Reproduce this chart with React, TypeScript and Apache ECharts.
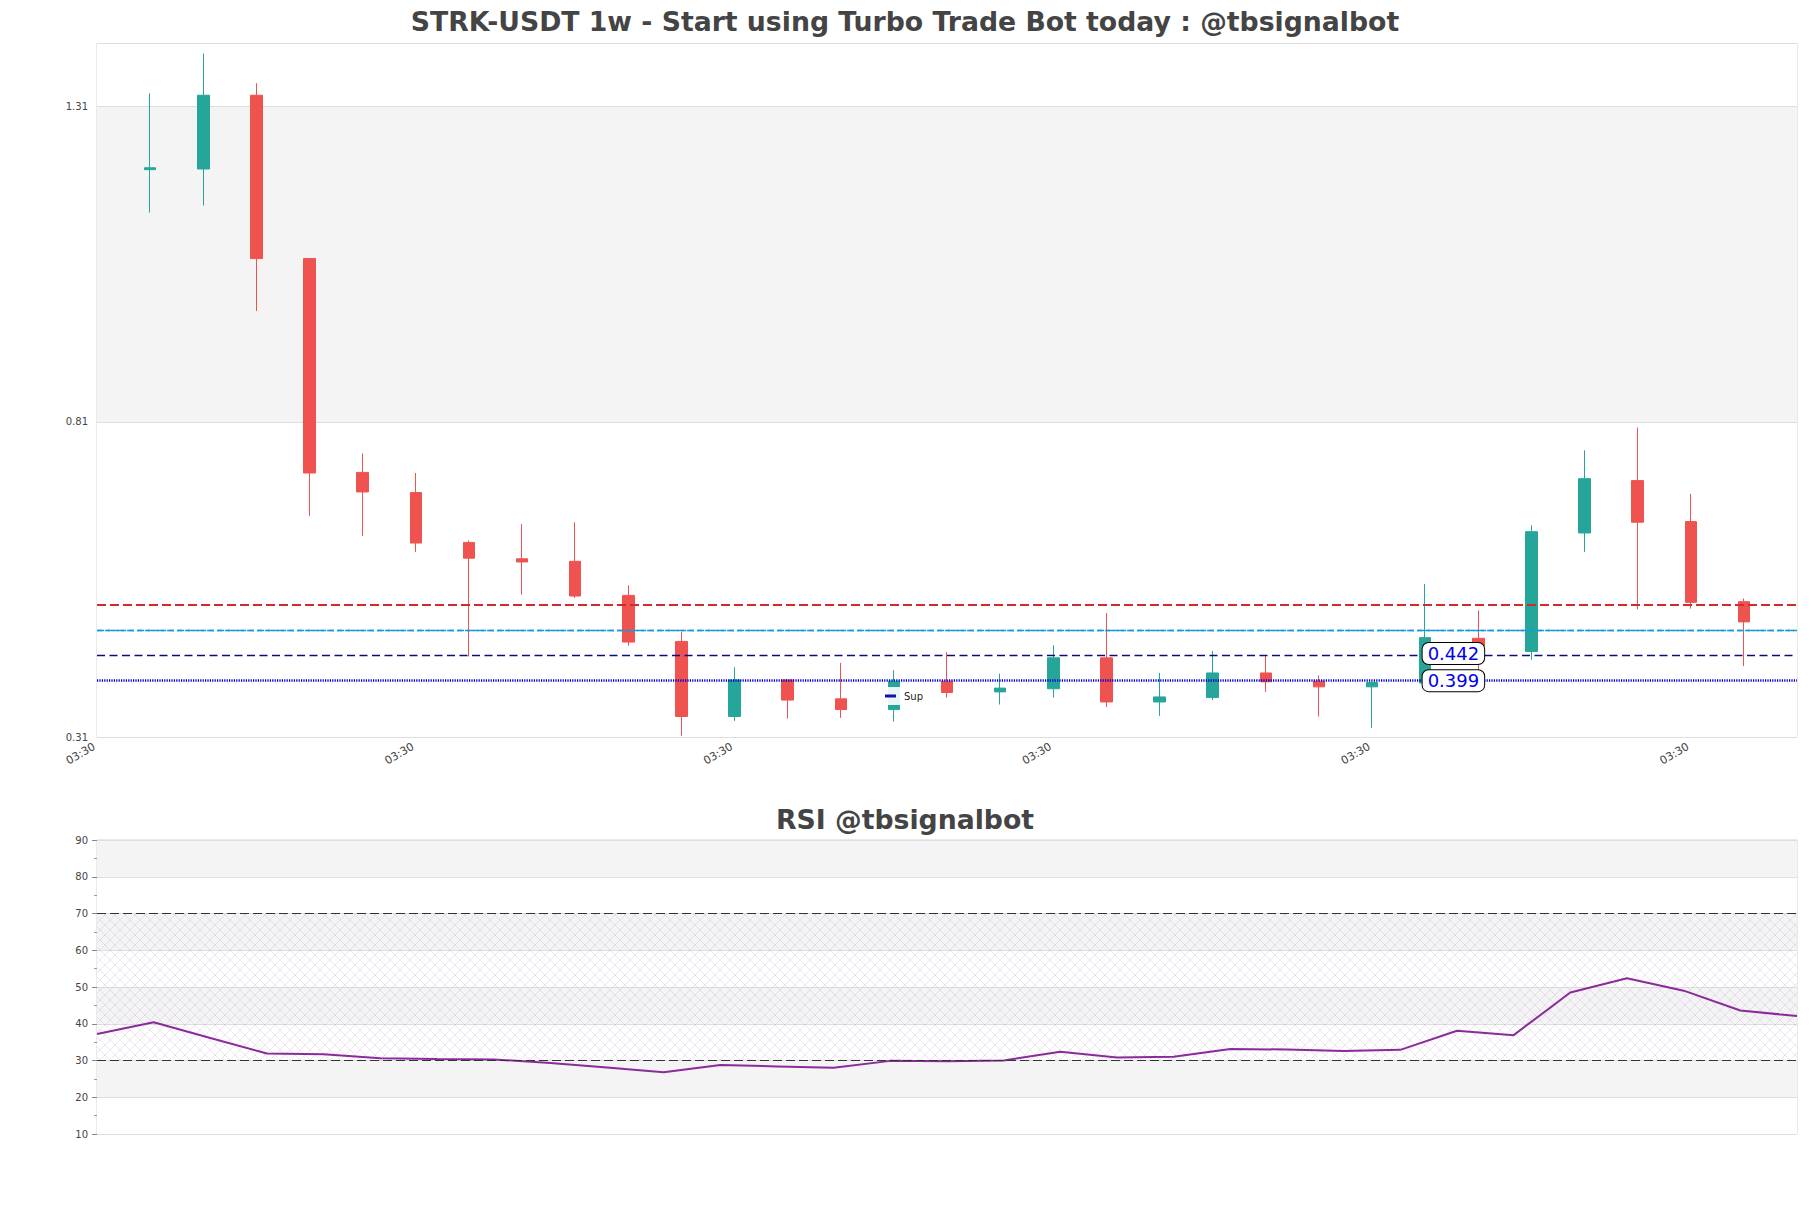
import React, { useEffect, useRef } from "react";
import * as echarts from "echarts";

// ---- Data (weekly candles, STRK-USDT) ----
const opens = [1.210, 1.211, 1.328, 1.069, 0.730, 0.698, 0.619, 0.593, 0.589, 0.535, 0.462, 0.343, 0.401, 0.371, 0.354, 0.399, 0.382, 0.387, 0.436, 0.366, 0.373, 0.412, 0.399, 0.390, 0.396, 0.467, 0.446, 0.634, 0.717, 0.652, 0.525];
const closes = [1.213, 1.328, 1.069, 0.729, 0.699, 0.618, 0.594, 0.588, 0.534, 0.461, 0.343, 0.401, 0.369, 0.354, 0.399, 0.381, 0.388, 0.436, 0.366, 0.374, 0.412, 0.398, 0.390, 0.397, 0.468, 0.455, 0.636, 0.720, 0.651, 0.524, 0.493];
const lows = [1.142, 1.153, 0.986, 0.661, 0.629, 0.604, 0.438, 0.536, 0.531, 0.455, 0.3125, 0.336, 0.340, 0.341, 0.335, 0.373, 0.362, 0.373, 0.358, 0.344, 0.369, 0.382, 0.343, 0.325, 0.392, 0.416, 0.433, 0.604, 0.513, 0.514, 0.423];
const highs = [1.331, 1.394, 1.347, 1.070, 0.760, 0.729, 0.622, 0.648, 0.651, 0.551, 0.477, 0.421, 0.401, 0.428, 0.4165, 0.445, 0.411, 0.456, 0.507, 0.412, 0.447, 0.439, 0.408, 0.398, 0.553, 0.511, 0.646, 0.765, 0.801, 0.696, 0.530];

const rsiValues = [37.2, 40.4, 36.1, 31.9, 31.7, 30.6, 30.4, 30.3, 29.3, 28.1, 26.8, 28.8, 28.4, 28.0, 29.9, 29.8, 30.0, 32.4, 30.8, 31.0, 33.1, 33.0, 32.6, 32.9, 38.1, 36.9, 48.5, 52.4, 49.0, 43.6, 42.1];

const xTickLabel = "03:30";
const priceAxisMin = 0.31;
const priceAxisMax = 1.41;
const priceTickStep = 0.5;
const rsiAxisMin = 10;
const rsiAxisMax = 90;
const rsiTickStep = 10;

const resistanceLevel = 0.5244;
const cyanLevels = [0.4797, 0.4755];
const supDashedLevel = 0.44;
const supDottedLevel = 0.3965;
const levelLabels = [0.442, 0.399];
const levelLabelCandle = 24;
const rsiBounds = [70, 30];

const mainTitle = "STRK-USDT 1w - Start using Turbo Trade Bot today : @tbsignalbot";
const rsiTitle = "RSI @tbsignalbot";

const FONT = "DejaVu Sans";

export default function App() {
  const ref = useRef<HTMLDivElement>(null);

  useEffect(() => {
    if (!ref.current) return;
    const chart = echarts.init(ref.current, undefined, { renderer: "svg" });

    // hatch pattern for RSI 30-70 zone
    const c = document.createElement("canvas");
    c.width = 10;
    c.height = 10;
    const ctx = c.getContext("2d");
    if (ctx) {
      ctx.strokeStyle = "rgba(180,145,200,0.42)";
      ctx.lineWidth = 0.6;
      ctx.beginPath();
      ctx.moveTo(0, 0);
      ctx.lineTo(10, 10);
      ctx.moveTo(10, 0);
      ctx.lineTo(0, 10);
      ctx.stroke();
    }

    // padded category axis: one empty slot on each side of the candles
    const mainCats = Array.from({ length: opens.length + 2 }, () => xTickLabel);
    const rsiCats = rsiValues.map(() => xTickLabel);
    const candleData = opens.map((o, i) => [i + 1, o, closes[i], lows[i], highs[i]]);

    const titleStyle = {
      fontFamily: FONT,
      fontSize: 26.7,
      fontWeight: "bold",
      fill: "#444444",
      align: "center",
      verticalAlign: "middle",
    };

    const option: any = {
      animation: false,
      backgroundColor: "#ffffff",
      textStyle: { fontFamily: FONT },
      graphic: [
        { type: "text", x: 905, y: 21.5, silent: true, style: { text: mainTitle, ...titleStyle } },
        { type: "text", x: 905, y: 819, silent: true, style: { text: rsiTitle, ...titleStyle } },
      ],
      legend: {
        data: [{ name: "Sup", icon: "rect" }],
        left: 880,
        top: 687,
        orient: "vertical",
        itemWidth: 11,
        itemHeight: 3,
        itemGap: 0,
        padding: [4, 5, 4, 5],
        backgroundColor: "rgba(255,255,255,0.9)",
        selectedMode: false,
        textStyle: { fontSize: 10, color: "#222", fontFamily: FONT, padding: [0, 0, 0, 3] },
        z: 10,
      },
      grid: [
        { left: 97, top: 43.5, width: 1700, height: 693.8, show: true, borderColor: "#d4d4d4", borderWidth: 1, backgroundColor: "transparent" },
        { left: 97, top: 840, width: 1700, height: 294, show: true, borderColor: "#d4d4d4", borderWidth: 1, backgroundColor: "transparent" },
      ],
      xAxis: [
        {
          type: "category",
          gridIndex: 0,
          data: mainCats,
          boundaryGap: false,
          axisLine: { show: false },
          axisTick: { show: false },
          splitLine: { show: false },
          axisLabel: {
            interval: 5,
            rotate: 30,
            fontSize: 11,
            color: "#444",
            margin: 7,
            fontFamily: FONT,
            padding: [0, 3, 0, 0],
          },
        },
        {
          type: "category",
          gridIndex: 1,
          data: rsiCats,
          boundaryGap: false,
          axisLine: { show: false },
          axisTick: { show: false },
          splitLine: { show: false },
          axisLabel: { show: false },
        },
      ],
      yAxis: [
        {
          type: "value",
          gridIndex: 0,
          min: priceAxisMin,
          max: priceAxisMax,
          interval: priceTickStep,
          axisLine: { show: false },
          axisTick: { show: false },
          axisLabel: {
            fontSize: 10,
            color: "#444",
            margin: 9,
            fontFamily: FONT,
            showMaxLabel: false,
            formatter: (v: number) => v.toFixed(2),
          },
          splitLine: { show: true, lineStyle: { color: "#dedede", width: 1 } },
          splitArea: { show: true, areaStyle: { color: ["#ffffff", "#f4f4f4"] } },
        },
        {
          type: "value",
          gridIndex: 1,
          min: rsiAxisMin,
          max: rsiAxisMax,
          interval: rsiTickStep,
          axisLine: { show: false },
          axisTick: { show: true, length: 5, lineStyle: { color: "#888" } },
          minorTick: { show: true, splitNumber: 2, length: 3, lineStyle: { color: "#999" } },
          axisLabel: { fontSize: 10, color: "#444", margin: 9, fontFamily: FONT },
          splitLine: { show: true, lineStyle: { color: "#dedede", width: 1 } },
          splitArea: { show: true, areaStyle: { color: ["#ffffff", "#f4f4f4"] } },
        },
      ],
      series: [
        {
          type: "candlestick",
          name: "price",
          xAxisIndex: 0,
          yAxisIndex: 0,
          dimensions: ["idx", "open", "close", "low", "high"],
          encode: { x: "idx", y: ["open", "close", "low", "high"] },
          data: candleData,
          barWidth: 12,
          itemStyle: {
            color: "#26a69a",
            color0: "#ef5350",
            borderColor: "#26a69a",
            borderColor0: "#ef5350",
            borderWidth: 1,
          },
          markLine: {
            silent: true,
            symbol: ["none", "none"],
            label: { show: false },
            data: [
              { yAxis: resistanceLevel, lineStyle: { color: "#d42a2a", width: 2.2, type: [9, 4] } },
              { yAxis: cyanLevels[0], lineStyle: { color: "#1898dc", width: 1.3, type: [7, 3] } },
              { yAxis: cyanLevels[1], lineStyle: { color: "#1898dc", width: 1.3, type: [5, 3] } },
              { yAxis: supDashedLevel, lineStyle: { color: "#0c0c7a", width: 1.3, type: [8, 4.5] } },
              { yAxis: supDottedLevel, lineStyle: { color: "#0000cc", width: 2.5, type: [1.2, 1.2] } },
            ],
          },
          markPoint: {
            silent: true,
            symbol: "circle",
            symbolSize: 1,
            itemStyle: { color: "rgba(0,0,0,0)" },
            data: levelLabels.map((v) => ({ coord: [levelLabelCandle + 1, v], value: v })),
            label: {
              show: true,
              position: [-2, 0],
              align: "left",
              verticalAlign: "middle",
              formatter: (p: any) => String(p.value),
              fontFamily: FONT,
              fontSize: 18,
              lineHeight: 19,
              color: "#0000ee",
              backgroundColor: "#ffffff",
              borderColor: "#000000",
              borderWidth: 1,
              borderRadius: 6,
              padding: [1, 5, 1, 5],
            },
          },
        },
        {
          type: "line",
          name: "Sup",
          xAxisIndex: 0,
          yAxisIndex: 0,
          data: [],
          itemStyle: { color: "#1010aa" },
          lineStyle: { color: "#1010aa" },
        },
        {
          type: "line",
          name: "RSI",
          xAxisIndex: 1,
          yAxisIndex: 1,
          data: rsiValues,
          symbol: "none",
          z: 4,
          lineStyle: { color: "#8b2a9a", width: 2 },
          itemStyle: { color: "#8b2a9a" },
          markLine: {
            silent: true,
            symbol: ["none", "none"],
            label: { show: false },
            lineStyle: { color: "#333333", width: 1.2, type: [9, 4] },
            data: rsiBounds.map((v) => ({ yAxis: v })),
          },
          markArea: {
            silent: true,
            itemStyle: { color: { image: c, repeat: "repeat" }, opacity: 1 },
            data: [[{ yAxis: rsiBounds[1] }, { yAxis: rsiBounds[0] }]],
          },
        },
      ],
    };

    chart.setOption(option);
    return () => chart.dispose();
  }, []);

  return (
    <div
      ref={ref}
      style={{ position: "absolute", left: 0, top: 0, width: 1811, height: 1208, background: "#fff" }}
    />
  );
}
